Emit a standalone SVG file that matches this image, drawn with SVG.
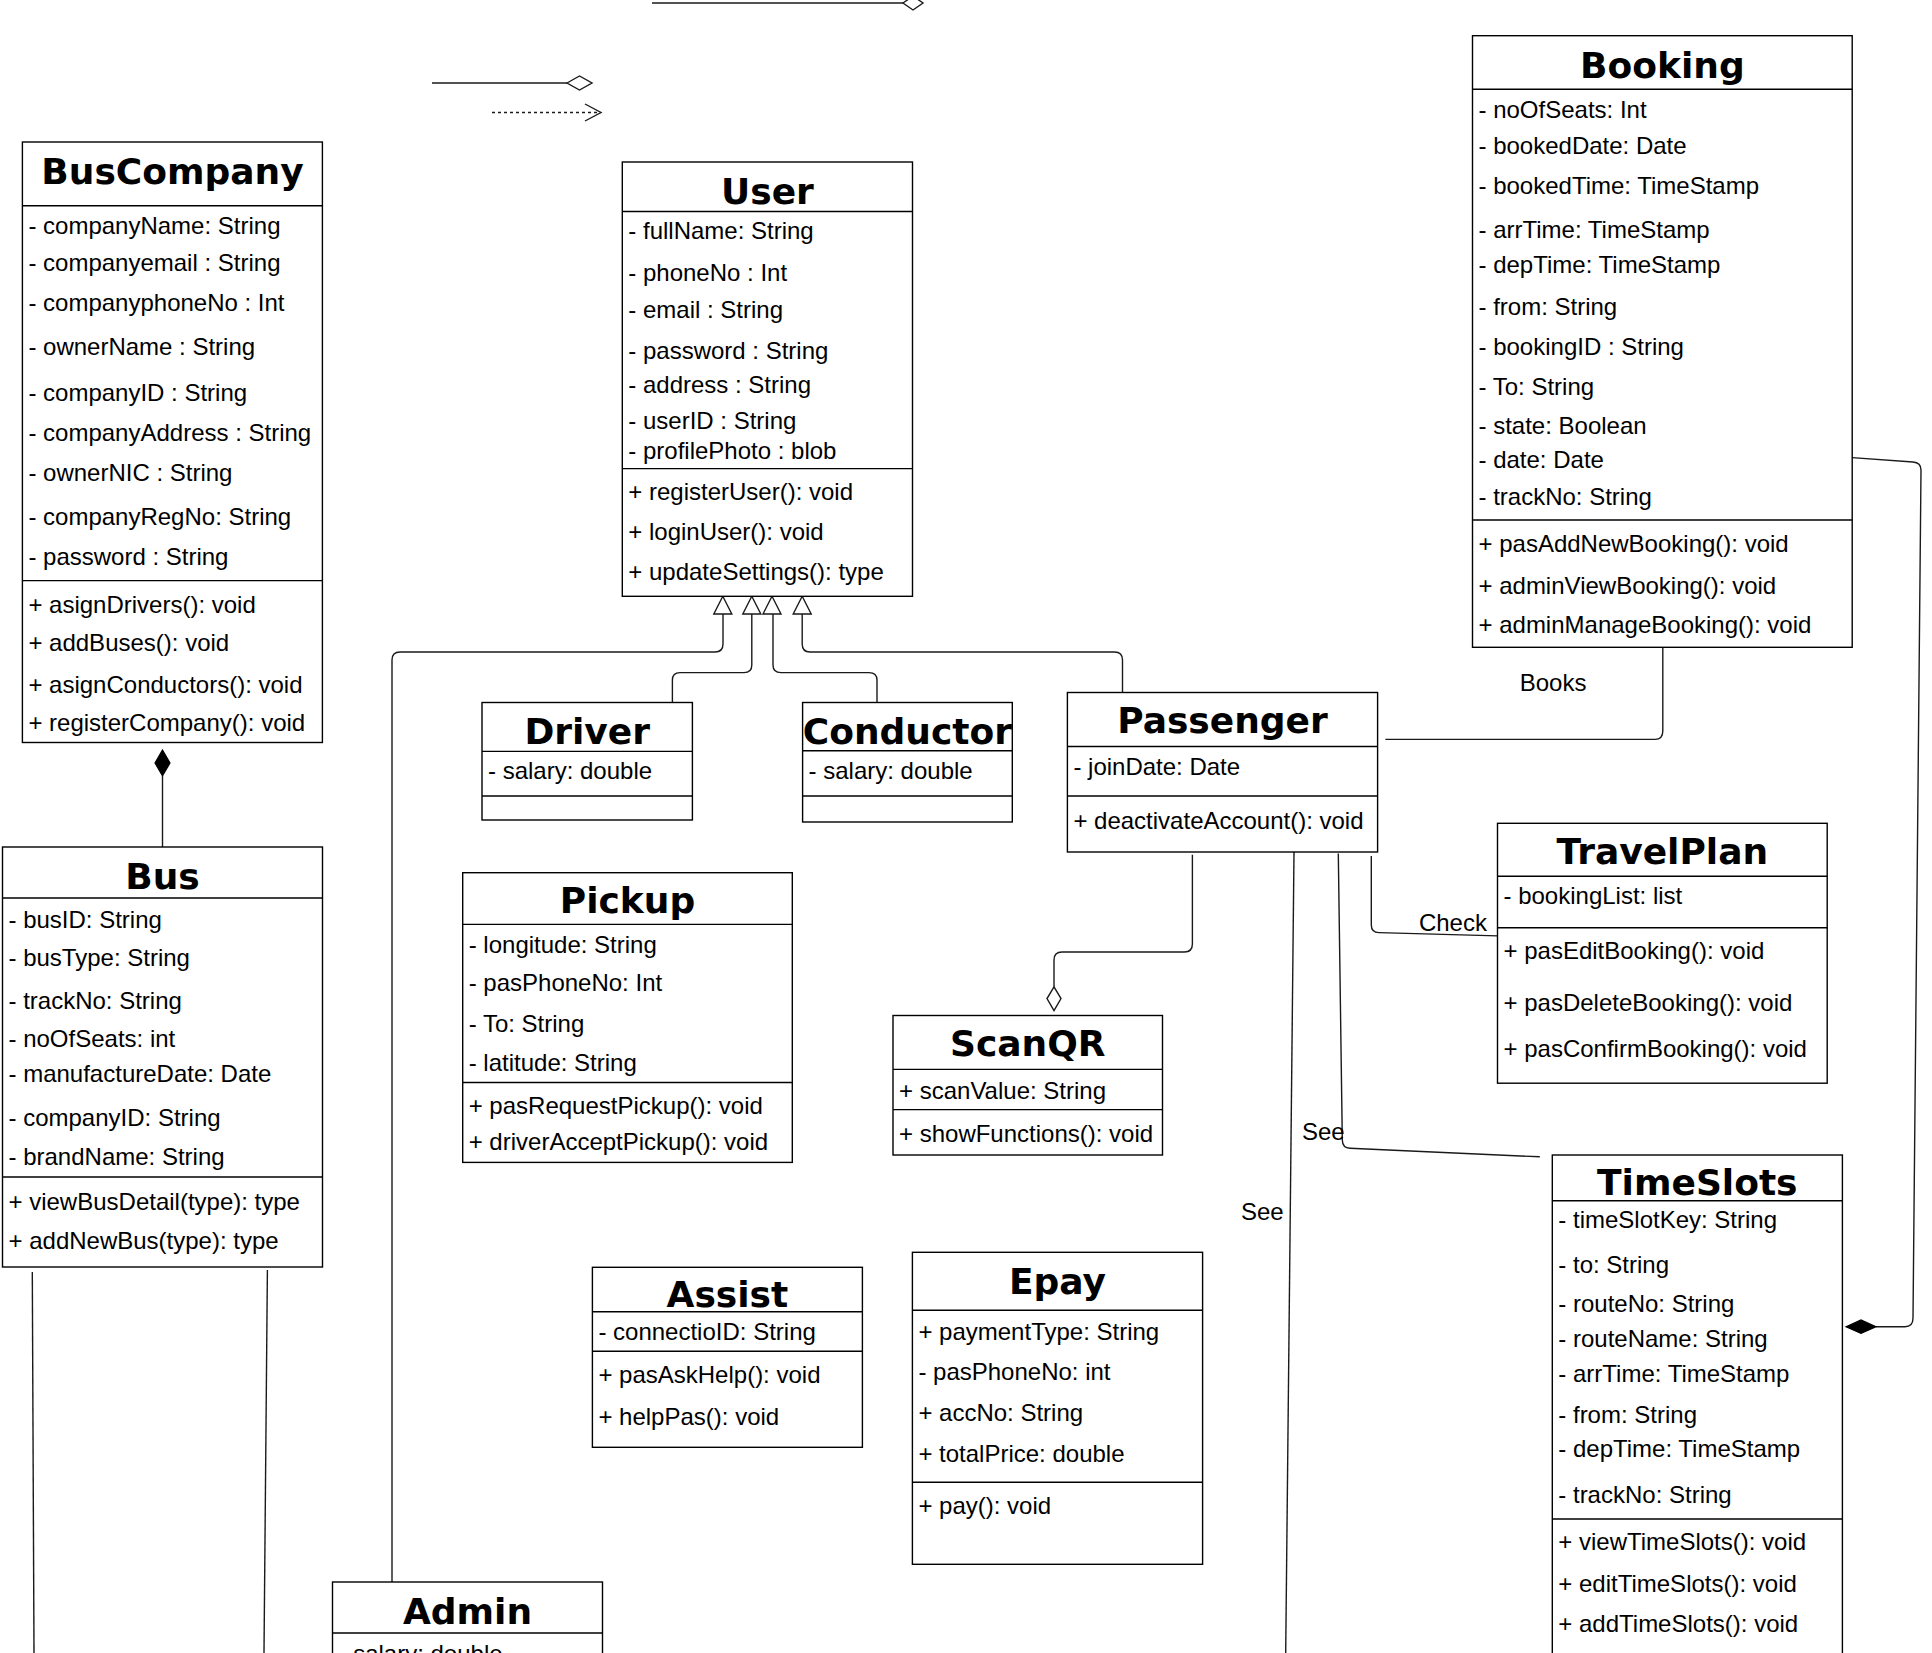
<svg xmlns="http://www.w3.org/2000/svg" width="1932" height="1653" viewBox="0 0 1932 1653">
<style>
.bg{fill:#ffffff}
.box{fill:#ffffff;stroke:#000;stroke-width:1.4}
.sep{stroke:#000;stroke-width:1.4}
.ttl{font-family:"DejaVu Sans",sans-serif;font-weight:bold;font-size:36px;fill:#000;text-anchor:middle}
.t{font-family:"Liberation Sans",Arial,sans-serif;font-size:24px;fill:#000}
.c{fill:none;stroke:#1a1a1a;stroke-width:1.4}
.hol{fill:#ffffff;stroke:#1a1a1a;stroke-width:1.4}
.fil{fill:#000;stroke:#000;stroke-width:1.2}
.dash{fill:none;stroke:#1a1a1a;stroke-width:1.3;stroke-dasharray:3,3}
</style>
<rect class="bg" x="0" y="0" width="1932" height="1653"/>

<g id="connectors">
  <path class="c" d="M652,3 H903"/>
  <polygon class="hol" points="903,3 913,-4 923,3 913,10"/>
  <path class="c" d="M432,83 H567"/>
  <polygon class="hol" points="567,83 579.5,76 592,83 579.5,90"/>
  <path class="dash" d="M492,112.5 H600"/>
  <polyline class="c" points="585,104 601,112.5 585,121"/>

  <path class="c" d="M723,614 V644 Q723,652 715,652 H400 Q392,652 392,660 V1582"/>
  <path class="c" d="M672.4,702.5 V680 Q672.4,672.6 680,672.6 H744 Q751.8,672.6 751.8,665 V614"/>
  <path class="c" d="M877,702.5 V680 Q877,672.6 869,672.6 H781 Q773,672.6 773,665 V614"/>
  <path class="c" d="M802.2,614 V644 Q802.2,652 810,652 H1114.5 Q1122.5,652 1122.5,660 V695 Q1122.5,701.7 1116,701.7 H1111 Q1104.5,701.7 1104.5,695 V692.5"/>
  <polygon class="hol" points="722.8,596.3 731.8,614 713.8,614"/>
  <polygon class="hol" points="751.8,596.3 760.8,614 742.8,614"/>
  <polygon class="hol" points="772,596.3 781,614 763,614"/>
  <polygon class="hol" points="802.2,596.3 811.2,614 793.2,614"/>

  <path class="c" d="M162.5,775.8 V847"/>
  <polygon class="fil" points="162.5,750 170,763 162.5,775.8 155,763"/>

  <path class="c" d="M32.3,1272 L34,1653"/>
  <path class="c" d="M267.4,1270 L264,1653"/>

  <path class="c" d="M1662.8,647.3 V731 Q1662.8,739.4 1655,739.4 H1385.4"/>
  <text class="t" x="1519.7" y="691.4">Books</text>

  <path class="c" d="M1852.2,457.6 L1913,462 Q1921,462.6 1921,470 L1913,1318 Q1913,1326.7 1905,1326.7 H1876"/>
  <polygon class="fil" points="1846,1326.7 1861,1320 1876,1326.7 1861,1333.4"/>

  <path class="c" d="M1371.3,856 V925 Q1371.3,932.4 1379,932.6 L1497.5,935.9"/>
  <text class="t" x="1418.9" y="930.6">Check</text>

  <path class="c" d="M1338.3,853.4 L1342.3,1140 Q1342.5,1148 1350,1148.3 L1539.8,1156.8"/>
  <text class="t" x="1302" y="1140">See</text>

  <path class="c" d="M1294,852 L1285.7,1653"/>
  <text class="t" x="1241" y="1220">See</text>

  <path class="c" d="M1192.4,854.8 V944 Q1192.4,952 1184.4,952 H1062 Q1054,952 1054,960 V986.8"/>
  <polygon class="hol" points="1054,986.8 1061,998.6 1054,1010.5 1047,998.6"/>
</g>

<g id="BusCompany">
  <rect class="box" x="22.4" y="142" width="300" height="600.5"/>
  <line class="sep" x1="22.4" y1="205.7" x2="322.4" y2="205.7"/>
  <line class="sep" x1="22.4" y1="580.6" x2="322.4" y2="580.6"/>
  <text class="ttl" x="172.5" y="184">BusCompany</text>
  <text class="t" x="28.4" y="234">- companyName: String</text>
  <text class="t" x="28.4" y="270.7">- companyemail : String</text>
  <text class="t" x="28.4" y="310.7">- companyphoneNo : Int</text>
  <text class="t" x="28.4" y="354.6">- ownerName : String</text>
  <text class="t" x="28.4" y="400.7">- companyID : String</text>
  <text class="t" x="28.4" y="441">- companyAddress : String</text>
  <text class="t" x="28.4" y="481">- ownerNIC : String</text>
  <text class="t" x="28.4" y="525">- companyRegNo: String</text>
  <text class="t" x="28.4" y="564.5">- password : String</text>
  <text class="t" x="28.4" y="613">+ asignDrivers(): void</text>
  <text class="t" x="28.4" y="651.4">+ addBuses(): void</text>
  <text class="t" x="28.4" y="692.7">+ asignConductors(): void</text>
  <text class="t" x="28.4" y="730.6">+ registerCompany(): void</text>
</g>

<g id="Bus">
  <rect class="box" x="2.5" y="847" width="320" height="420"/>
  <line class="sep" x1="2.5" y1="898" x2="322.5" y2="898"/>
  <line class="sep" x1="2.5" y1="1177" x2="322.5" y2="1177"/>
  <text class="ttl" x="162.5" y="888.7">Bus</text>
  <text class="t" x="8.5" y="928">- busID: String</text>
  <text class="t" x="8.5" y="966.4">- busType: String</text>
  <text class="t" x="8.5" y="1008.5">- trackNo: String</text>
  <text class="t" x="8.5" y="1046.7">- noOfSeats: int</text>
  <text class="t" x="8.5" y="1082">- manufactureDate: Date</text>
  <text class="t" x="8.5" y="1126">- companyID: String</text>
  <text class="t" x="8.5" y="1165">- brandName: String</text>
  <text class="t" x="8.5" y="1210">+ viewBusDetail(type): type</text>
  <text class="t" x="8.5" y="1249">+ addNewBus(type): type</text>
</g>

<g id="User">
  <rect class="box" x="622.3" y="162" width="290.2" height="434.3"/>
  <line class="sep" x1="622.3" y1="211.5" x2="912.5" y2="211.5"/>
  <line class="sep" x1="622.3" y1="468.6" x2="912.5" y2="468.6"/>
  <text class="ttl" x="767.4" y="204">User</text>
  <text class="t" x="628.3" y="239">- fullName: String</text>
  <text class="t" x="628.3" y="281">- phoneNo : Int</text>
  <text class="t" x="628.3" y="318">- email : String</text>
  <text class="t" x="628.3" y="359">- password : String</text>
  <text class="t" x="628.3" y="393">- address : String</text>
  <text class="t" x="628.3" y="429">- userID : String</text>
  <text class="t" x="628.3" y="459">- profilePhoto : blob</text>
  <text class="t" x="628.3" y="500">+ registerUser(): void</text>
  <text class="t" x="628.3" y="540">+ loginUser(): void</text>
  <text class="t" x="628.3" y="580">+ updateSettings(): type</text>
</g>

<g id="Booking">
  <rect class="box" x="1472.5" y="35.7" width="379.7" height="611.6"/>
  <line class="sep" x1="1472.5" y1="89.3" x2="1852.2" y2="89.3"/>
  <line class="sep" x1="1472.5" y1="520" x2="1852.2" y2="520"/>
  <text class="ttl" x="1662.4" y="78">Booking</text>
  <text class="t" x="1478.5" y="118.3">- noOfSeats: Int</text>
  <text class="t" x="1478.5" y="154">- bookedDate: Date</text>
  <text class="t" x="1478.5" y="194">- bookedTime: TimeStamp</text>
  <text class="t" x="1478.5" y="237.5">- arrTime: TimeStamp</text>
  <text class="t" x="1478.5" y="273">- depTime: TimeStamp</text>
  <text class="t" x="1478.5" y="314.7">- from: String</text>
  <text class="t" x="1478.5" y="355">- bookingID : String</text>
  <text class="t" x="1478.5" y="395">- To: String</text>
  <text class="t" x="1478.5" y="434">- state: Boolean</text>
  <text class="t" x="1478.5" y="468">- date: Date</text>
  <text class="t" x="1478.5" y="504.5">- trackNo: String</text>
  <text class="t" x="1478.5" y="552">+ pasAddNewBooking(): void</text>
  <text class="t" x="1478.5" y="594">+ adminViewBooking(): void</text>
  <text class="t" x="1478.5" y="633">+ adminManageBooking(): void</text>
</g>

<g id="Driver">
  <rect class="box" x="482" y="702.5" width="210.4" height="117.5"/>
  <line class="sep" x1="482" y1="751.4" x2="692.4" y2="751.4"/>
  <line class="sep" x1="482" y1="796" x2="692.4" y2="796"/>
  <text class="ttl" x="587.2" y="743.8">Driver</text>
  <text class="t" x="488" y="779">- salary: double</text>
</g>

<g id="Conductor">
  <rect class="box" x="802.6" y="702.5" width="209.7" height="119.5"/>
  <line class="sep" x1="802.6" y1="750.7" x2="1012.3" y2="750.7"/>
  <line class="sep" x1="802.6" y1="796" x2="1012.3" y2="796"/>
  <text class="ttl" x="907.4" y="743.8">Conductor</text>
  <text class="t" x="808.6" y="779">- salary: double</text>
</g>

<g id="Passenger">
  <rect class="box" x="1067.4" y="692.5" width="310.2" height="159.5"/>
  <line class="sep" x1="1067.4" y1="746.5" x2="1377.6" y2="746.5"/>
  <line class="sep" x1="1067.4" y1="796" x2="1377.6" y2="796"/>
  <text class="ttl" x="1222.5" y="733">Passenger</text>
  <text class="t" x="1073.4" y="775">- joinDate: Date</text>
  <text class="t" x="1073.4" y="828.7">+ deactivateAccount(): void</text>
</g>

<g id="Pickup">
  <rect class="box" x="462.7" y="872.7" width="329.6" height="289.7"/>
  <line class="sep" x1="462.7" y1="924.4" x2="792.3" y2="924.4"/>
  <line class="sep" x1="462.7" y1="1082.5" x2="792.3" y2="1082.5"/>
  <text class="ttl" x="627.5" y="913">Pickup</text>
  <text class="t" x="468.7" y="953">- longitude: String</text>
  <text class="t" x="468.7" y="991.4">- pasPhoneNo: Int</text>
  <text class="t" x="468.7" y="1031.6">- To: String</text>
  <text class="t" x="468.7" y="1070.6">- latitude: String</text>
  <text class="t" x="468.7" y="1113.8">+ pasRequestPickup(): void</text>
  <text class="t" x="468.7" y="1150.2">+ driverAcceptPickup(): void</text>
</g>

<g id="ScanQR">
  <rect class="box" x="893" y="1015.5" width="269.5" height="139.5"/>
  <line class="sep" x1="893" y1="1069.4" x2="1162.5" y2="1069.4"/>
  <line class="sep" x1="893" y1="1109.6" x2="1162.5" y2="1109.6"/>
  <text class="ttl" x="1027.8" y="1056.4">ScanQR</text>
  <text class="t" x="899" y="1098.5">+ scanValue: String</text>
  <text class="t" x="899" y="1141.8">+ showFunctions(): void</text>
</g>

<g id="TravelPlan">
  <rect class="box" x="1497.5" y="823.3" width="329.7" height="259.9"/>
  <line class="sep" x1="1497.5" y1="876.2" x2="1827.2" y2="876.2"/>
  <line class="sep" x1="1497.5" y1="927.8" x2="1827.2" y2="927.8"/>
  <text class="ttl" x="1662.3" y="864">TravelPlan</text>
  <text class="t" x="1503.5" y="904.3">- bookingList: list</text>
  <text class="t" x="1503.5" y="959.4">+ pasEditBooking(): void</text>
  <text class="t" x="1503.5" y="1011.3">+ pasDeleteBooking(): void</text>
  <text class="t" x="1503.5" y="1056.9">+ pasConfirmBooking(): void</text>
</g>

<g id="Assist">
  <rect class="box" x="592.4" y="1267.3" width="270" height="180"/>
  <line class="sep" x1="592.4" y1="1311.7" x2="862.4" y2="1311.7"/>
  <line class="sep" x1="592.4" y1="1351.3" x2="862.4" y2="1351.3"/>
  <text class="ttl" x="727.4" y="1307.3">Assist</text>
  <text class="t" x="598.4" y="1340">- connectioID: String</text>
  <text class="t" x="598.4" y="1383.3">+ pasAskHelp(): void</text>
  <text class="t" x="598.4" y="1425">+ helpPas(): void</text>
</g>

<g id="Epay">
  <rect class="box" x="912.4" y="1252.3" width="290.2" height="312"/>
  <line class="sep" x1="912.4" y1="1310.3" x2="1202.6" y2="1310.3"/>
  <line class="sep" x1="912.4" y1="1482.3" x2="1202.6" y2="1482.3"/>
  <text class="ttl" x="1057.5" y="1294">Epay</text>
  <text class="t" x="918.4" y="1340">+ paymentType: String</text>
  <text class="t" x="918.4" y="1380">- pasPhoneNo: int</text>
  <text class="t" x="918.4" y="1420.7">+ accNo: String</text>
  <text class="t" x="918.4" y="1461.7">+ totalPrice: double</text>
  <text class="t" x="918.4" y="1514">+ pay(): void</text>
</g>

<g id="TimeSlots">
  <rect class="box" x="1552.3" y="1155" width="290.1" height="600"/>
  <line class="sep" x1="1552.3" y1="1200.7" x2="1842.4" y2="1200.7"/>
  <line class="sep" x1="1552.3" y1="1519" x2="1842.4" y2="1519"/>
  <text class="ttl" x="1697.3" y="1195">TimeSlots</text>
  <text class="t" x="1558.3" y="1228.3">- timeSlotKey: String</text>
  <text class="t" x="1558.3" y="1273.3">- to: String</text>
  <text class="t" x="1558.3" y="1312.3">- routeNo: String</text>
  <text class="t" x="1558.3" y="1347.3">- routeName: String</text>
  <text class="t" x="1558.3" y="1381.7">- arrTime: TimeStamp</text>
  <text class="t" x="1558.3" y="1423.3">- from: String</text>
  <text class="t" x="1558.3" y="1457.3">- depTime: TimeStamp</text>
  <text class="t" x="1558.3" y="1502.7">- trackNo: String</text>
  <text class="t" x="1558.3" y="1550">+ viewTimeSlots(): void</text>
  <text class="t" x="1558.3" y="1591.7">+ editTimeSlots(): void</text>
  <text class="t" x="1558.3" y="1631.7">+ addTimeSlots(): void</text>
</g>

<g id="Admin">
  <rect class="box" x="332.5" y="1582" width="270" height="200"/>
  <line class="sep" x1="332.5" y1="1633" x2="602.5" y2="1633"/>
  <text class="ttl" x="467.5" y="1624">Admin</text>
  <text class="t" x="338.5" y="1662">- salary: double</text>
</g>
</svg>
